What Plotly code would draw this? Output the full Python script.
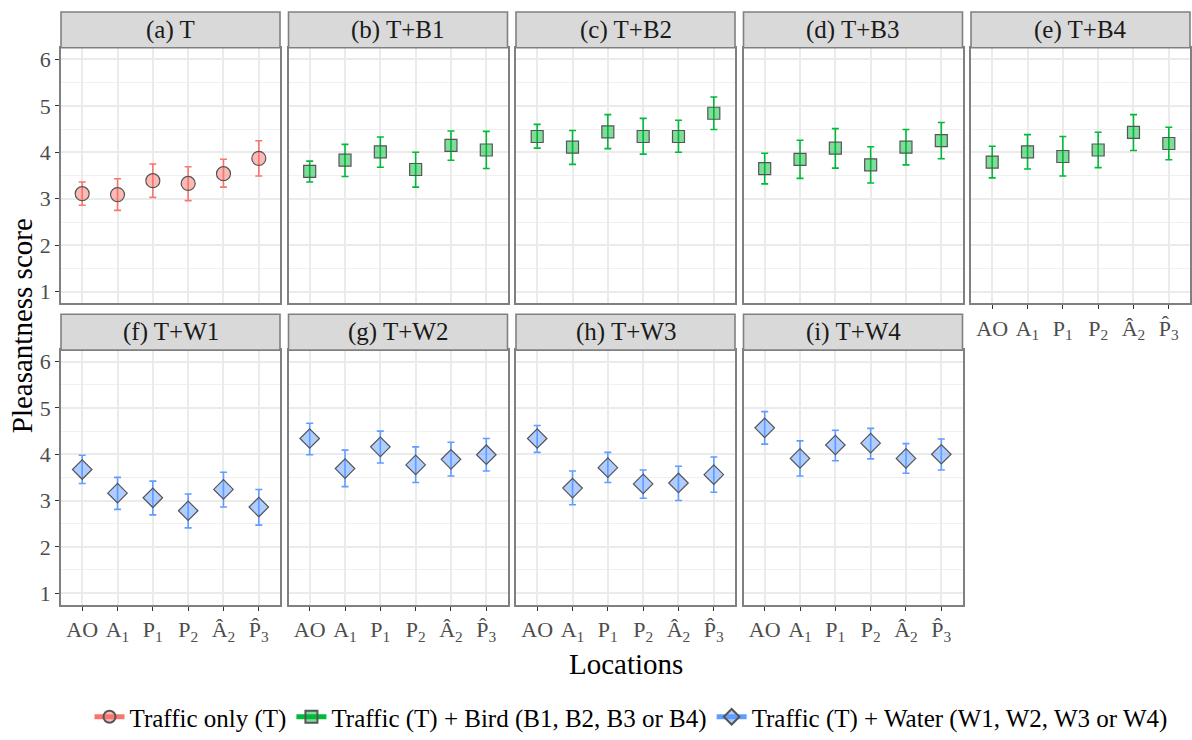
import plotly.graph_objects as go

# ---------------- data ----------------
locations = ["AO", "A<sub>1</sub>", "P<sub>1</sub>", "P<sub>2</sub>", "Â<sub>2</sub>", "P\u0302<sub>3</sub>"]
panel_titles = ["(a) T", "(b) T+B1", "(c) T+B2", "(d) T+B3", "(e) T+B4",
                "(f) T+W1", "(g) T+W2", "(h) T+W3", "(i) T+W4"]
panel_group = ["T", "B", "B", "B", "B", "W", "W", "W", "W"]

mean_a = [3.11, 3.09, 3.39, 3.33, 3.54, 3.87]
upper_a = [3.36, 3.43, 3.75, 3.69, 3.85, 4.25]
lower_a = [2.86, 2.75, 3.03, 2.96, 3.25, 3.49]

mean_b = [3.59, 3.83, 4.01, 3.63, 4.15, 4.05]
upper_b = [3.81, 4.17, 4.33, 4.00, 4.46, 4.45]
lower_b = [3.36, 3.48, 3.68, 3.25, 3.83, 3.65]

mean_c = [4.34, 4.11, 4.44, 4.34, 4.34, 4.84]
upper_c = [4.60, 4.47, 4.81, 4.73, 4.69, 5.19]
lower_c = [4.09, 3.74, 4.08, 3.96, 4.00, 4.49]

mean_d = [3.65, 3.85, 4.09, 3.73, 4.11, 4.25]
upper_d = [3.98, 4.26, 4.51, 4.12, 4.49, 4.64]
lower_d = [3.32, 3.44, 3.66, 3.34, 3.73, 3.86]

mean_e = [3.79, 4.01, 3.91, 4.05, 4.43, 4.19]
upper_e = [4.13, 4.38, 4.34, 4.43, 4.81, 4.54]
lower_e = [3.45, 3.64, 3.49, 3.67, 4.04, 3.84]

mean_f = [3.67, 3.16, 3.06, 2.78, 3.24, 2.86]
upper_f = [3.98, 3.50, 3.42, 3.14, 3.61, 3.24]
lower_f = [3.37, 2.81, 2.69, 2.41, 2.86, 2.47]

mean_g = [4.34, 3.69, 4.16, 3.77, 3.89, 3.99]
upper_g = [4.67, 4.09, 4.50, 4.16, 4.26, 4.34]
lower_g = [3.99, 3.30, 3.81, 3.39, 3.53, 3.64]

mean_h = [4.34, 3.27, 3.71, 3.36, 3.38, 3.56]
upper_h = [4.62, 3.64, 4.04, 3.66, 3.74, 3.94]
lower_h = [4.04, 2.91, 3.39, 3.05, 3.00, 3.18]

mean_i = [4.57, 3.91, 4.20, 4.24, 3.91, 4.00]
upper_i = [4.92, 4.29, 4.52, 4.56, 4.23, 4.33]
lower_i = [4.22, 3.53, 3.86, 3.90, 3.59, 3.66]

means = [mean_a, mean_b, mean_c, mean_d, mean_e, mean_f, mean_g, mean_h, mean_i]
uppers = [upper_a, upper_b, upper_c, upper_d, upper_e, upper_f, upper_g, upper_h, upper_i]
lowers = [lower_a, lower_b, lower_c, lower_d, lower_e, lower_f, lower_g, lower_h, lower_i]

y_ticks = [1, 2, 3, 4, 5, 6]
y_minor = [1.5, 2.5, 3.5, 4.5, 5.5]
legend_order = ["T", "B", "W"]
legend_names = {
    "T": "Traffic only (T)",
    "B": "Traffic (T) + Bird (B1, B2, B3 or B4)",
    "W": "Traffic (T) + Water (W1, W2, W3 or W4)",
}

# ---------------- styles ----------------
W, H = 1192, 740
FONT = "'Liberation Serif', 'Times New Roman', Times, serif"
BORDER = "#808080"
styles = {
    "T": dict(symbol="circle", size=14, fill="rgba(248,118,109,0.5)", err="#F8766D"),
    "B": dict(symbol="square", size=12, fill="rgba(0,186,56,0.5)", err="#00BA38"),
    "W": dict(symbol="diamond", size=15, fill="rgba(97,156,255,0.5)", err="#619CFF"),
}
col_left = [61, 288.5, 516, 743.5, 971]
col_w = 219
row_plot = [(48, 305), (352, 608)]
strip_h = 36
positions = [(0, 0), (0, 1), (0, 2), (0, 3), (0, 4), (1, 0), (1, 1), (1, 2), (1, 3)]

fig = go.Figure()
shapes = []
annotations = []
xs = list(range(1, len(locations) + 1))

for k in range(9):
    row, col = positions[k]
    ax = "" if k == 0 else str(k + 1)
    g = panel_group[k]
    st = styles[g]
    m = means[k]
    up = [u - v for u, v in zip(uppers[k], m)]
    lo = [v - l for v, l in zip(m, lowers[k])]
    fig.add_trace(go.Scatter(
        x=xs, y=m, mode="markers",
        xaxis="x" + ax, yaxis="y" + ax,
        name=legend_names[g], legendgroup=g, showlegend=False,
        marker=dict(symbol=st["symbol"], size=st["size"], color=st["fill"],
                    line=dict(color="#555555", width=1.2)),
        error_y=dict(type="data", symmetric=False, array=up, arrayminus=lo,
                     color=st["err"], thickness=1.6, width=3.5),
    ))

    left = col_left[col]
    top, bottom = row_plot[row]
    xdom = [left / W, (left + col_w) / W]
    ydom = [1 - bottom / H, 1 - top / H]
    show_x = (row == 1) or (k == 4)
    show_y = (col == 0)
    fig.layout["xaxis" + ax] = dict(
        domain=xdom, anchor="y" + ax, range=[0.4, 6.6],
        tickvals=xs, ticktext=locations, showticklabels=show_x,
        ticks="outside" if show_x else "", ticklen=4, tickcolor="#333333", tickwidth=1.2,
        tickfont=dict(family=FONT, size=22, color="#4D4D4D"),
        showgrid=True, gridcolor="#EBEBEB", gridwidth=1.5,
        showline=True, mirror=True, linecolor=BORDER, linewidth=1.6,
        zeroline=False, fixedrange=True,
    )
    fig.layout["yaxis" + ax] = dict(
        domain=ydom, anchor="x" + ax, range=[0.75, 6.25],
        tickvals=y_ticks, showticklabels=show_y,
        ticks="outside" if show_y else "", ticklen=4, tickcolor="#333333", tickwidth=1.2,
        tickfont=dict(family=FONT, size=22, color="#4D4D4D"),
        showgrid=True, gridcolor="#EBEBEB", gridwidth=1.5,
        minor=dict(tickvals=y_minor, showgrid=True, gridcolor="#F0F0F0", gridwidth=1),
        showline=True, mirror=True, linecolor=BORDER, linewidth=1.6,
        zeroline=False, fixedrange=True,
    )
    # strip
    shapes.append(dict(type="rect", xref="paper", yref="paper",
                       x0=xdom[0], x1=xdom[1], y0=ydom[1], y1=1 - (top - strip_h) / H,
                       fillcolor="#D9D9D9", line=dict(color=BORDER, width=1.6), layer="above"))
    annotations.append(dict(text=panel_titles[k], xref="paper", yref="paper",
                            x=(xdom[0] + xdom[1]) / 2, y=1 - (top - strip_h / 2) / H,
                            xanchor="center", yanchor="middle", showarrow=False,
                            font=dict(family=FONT, size=25, color="#1A1A1A")))

# legend-only entries (key = marker with error-bar coloured line, as in ggplot)
for g in legend_order:
    st = styles[g]
    fig.add_trace(go.Scatter(
        x=[None], y=[None], mode="lines+markers", name=legend_names[g], legendgroup=g,
        showlegend=True,
        line=dict(color=st["err"], width=1.6),
        marker=dict(symbol=st["symbol"], size=st["size"], color=st["fill"],
                    line=dict(color="#555555", width=1.2)),
    ))

annotations.append(dict(text="Pleasantness score", xref="paper", yref="paper",
                        x=22 / W, y=1 - 328 / H, textangle=-90, showarrow=False,
                        xanchor="center", yanchor="middle",
                        font=dict(family=FONT, size=29, color="black")))
annotations.append(dict(text="Locations", xref="paper", yref="paper",
                        x=626 / W, y=1 - 668 / H, showarrow=False,
                        xanchor="center", yanchor="middle",
                        font=dict(family=FONT, size=29, color="black")))

fig.update_layout(
    width=W, height=H, autosize=False,
    margin=dict(l=0, r=0, t=0, b=0),
    paper_bgcolor="white", plot_bgcolor="white",
    shapes=shapes, annotations=annotations,
    legend=dict(orientation="h", x=631 / W, xanchor="center", y=1 - 721 / H, yanchor="middle",
                font=dict(family=FONT, size=25, color="black"),
                itemsizing="constant", tracegroupgap=0, itemwidth=30),
    font=dict(family=FONT, color="black"),
)

fig.write_html("out.html")
